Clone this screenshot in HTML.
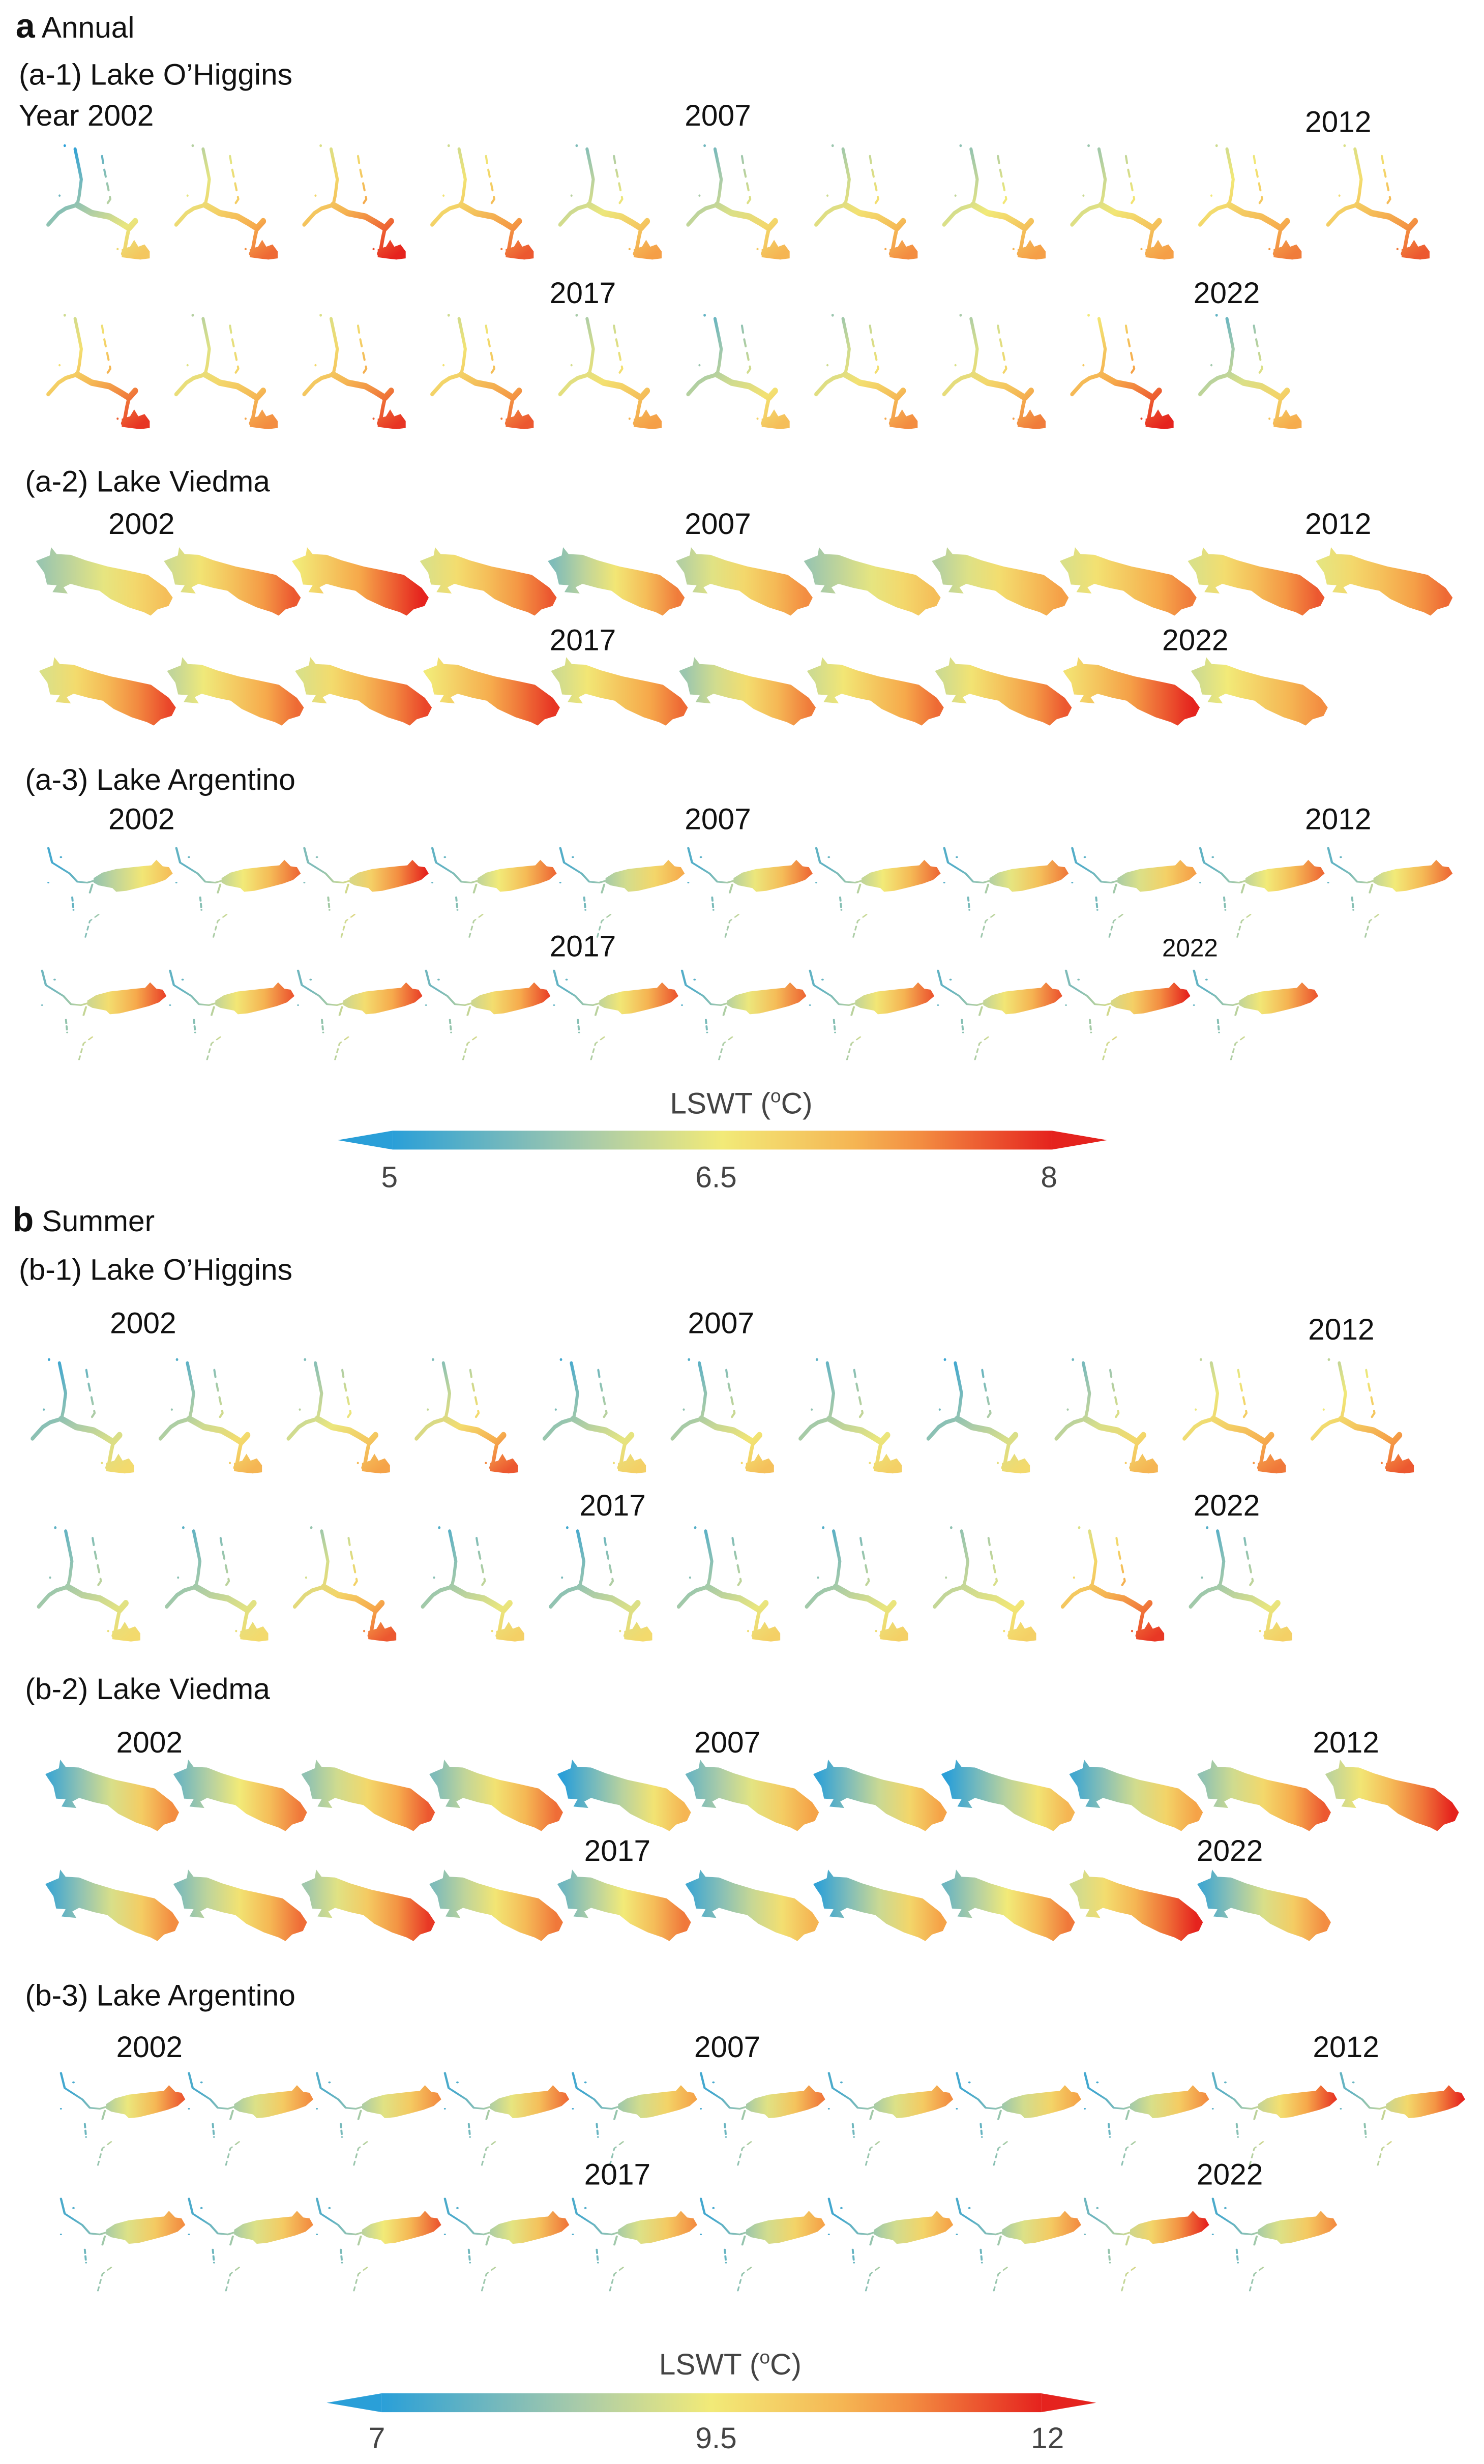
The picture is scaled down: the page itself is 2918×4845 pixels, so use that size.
<!DOCTYPE html>
<html>
<head>
<meta charset="utf-8">
<style>
html,body{margin:0;padding:0;background:#fff;}
svg{display:block;}
text{font-family:"Liberation Sans",Arial,sans-serif;}
</style>
</head>
<body>
<svg id="fig" width="2918" height="4845" viewBox="0 0 945 1569" preserveAspectRatio="none" xmlns="http://www.w3.org/2000/svg">
<defs id="defs"></defs>
<g id="labels" font-size="19" fill="#111">
  <text x="10" y="24"><tspan font-weight="bold" font-size="22">a</tspan> Annual</text>
  <text x="12" y="54">(a-1) Lake O’Higgins</text>
  <text x="16" y="313">(a-2) Lake Viedma</text>
  <text x="16" y="503">(a-3) Lake Argentino</text>
  <text x="8" y="784"><tspan font-weight="bold" font-size="22">b</tspan> Summer</text>
  <text x="12" y="815">(b-1) Lake O’Higgins</text>
  <text x="16" y="1082">(b-2) Lake Viedma</text>
  <text x="16" y="1277">(b-3) Lake Argentino</text>
</g>
<g id="maps"></g>
<g id="cbars"></g>
</svg>
<script>
const NS = "http://www.w3.org/2000/svg";
const years = [2002,2003,2004,2005,2006,2007,2008,2009,2010,2011,2012,2013,2014,2015,2016,2017,2018,2019,2020,2021,2022];
const labelYears = [2002,2007,2012,2017,2022];

// Annual (°C)
const ohAnnWest = [5.0,6.0,6.3,6.2,5.6,5.5,5.8,5.7,5.8,6.2,6.3,6.2,6.0,6.3,6.2,5.9,5.4,5.8,5.9,6.5,5.4];
const ohAnnEast = [6.9,7.6,8.0,7.7,7.3,7.1,7.4,7.3,7.3,7.5,7.7,7.9,7.4,7.9,7.7,7.3,7.0,7.4,7.5,8.0,7.2];
const viAnnWest = [5.8,6.2,6.5,6.3,5.6,6.0,5.8,6.0,6.3,6.3,6.4,6.3,6.1,6.3,6.5,6.2,5.8,6.2,6.2,6.6,6.2];
const viAnnEast = [7.0,7.7,8.0,7.7,7.5,7.4,7.0,7.3,7.5,7.7,7.6,7.8,7.6,7.8,7.9,7.6,7.5,7.6,7.7,8.0,7.4];
const arAnnWest = [5.2,5.4,5.6,5.4,5.3,5.3,5.4,5.3,5.3,5.4,5.4,5.5,5.4,5.5,5.5,5.4,5.3,5.4,5.4,5.6,5.4];
const arAnnEast = [7.0,7.6,8.0,7.6,7.2,7.6,7.6,7.5,7.3,7.6,7.6,7.8,7.7,7.8,7.8,7.7,7.6,7.7,7.7,8.0,7.7];
// Summer (°C)
const ohSumWest = [7.2,7.5,8.0,8.0,7.3,7.5,7.6,7.2,7.8,8.8,8.8,7.6,7.6,8.3,7.5,7.3,7.5,7.5,8.2,9.2,7.5];
const ohSumEast = [9.8,10.5,10.8,11.5,10.0,10.3,10.0,9.8,10.5,11.2,11.5,9.8,9.8,11.5,10.0,9.8,10.0,10.0,10.0,11.8,10.0];
const viSumWest = [7.3,7.8,8.2,8.0,7.0,7.8,7.1,7.0,7.3,8.2,8.8,7.3,8.0,8.4,8.0,7.8,7.3,7.1,7.8,9.0,7.3];
const viSumEast = [11.0,11.2,11.5,11.3,10.5,10.8,10.8,10.5,10.8,11.5,12.0,11.0,11.3,11.8,11.2,11.2,10.5,10.8,11.2,12.0,11.0];
const arSumWest = [7.3,7.4,7.5,7.4,7.3,7.3,7.4,7.3,7.3,7.6,7.7,7.4,7.4,7.5,7.4,7.4,7.3,7.3,7.4,7.8,7.4];
const arSumEast = [11.5,11.0,11.0,11.3,10.8,11.2,11.0,10.8,11.0,11.8,12.0,11.0,11.0,11.5,11.2,11.0,10.8,10.8,11.0,12.0,11.0];

const annTicks = [5,6.5,8];
const sumTicks = [7,9.5,12];

const cmapStops = [[0,[42,159,216]],[0.3,[169,203,169]],[0.5,[242,234,120]],[0.75,[246,168,74]],[1,[229,35,30]]];
function cmap(t){
  t=Math.max(0,Math.min(1,t));
  for(let i=1;i<cmapStops.length;i++){
    if(t<=cmapStops[i][0]){
      const a=cmapStops[i-1],b=cmapStops[i];const f=(t-a[0])/(b[0]-a[0]);
      const c=a[1].map((v,k)=>Math.round(v+(b[1][k]-v)*f));
      return `rgb(${c[0]},${c[1]},${c[2]})`;
    }
  }
  return "rgb(229,35,30)";
}

const defs=document.getElementById('defs');
const maps=document.getElementById('maps');
let gid=0;
function el(tag,attrs,parent){const e=document.createElementNS(NS,tag);for(const k in attrs)e.setAttribute(k,attrs[k]);if(parent)parent.appendChild(e);return e;}

function makeGrad(west,east,dom,x1,y1,x2,y2){
  const id='g'+(gid++);
  const g=el('linearGradient',{id:id,gradientUnits:'userSpaceOnUse',x1:x1,y1:y1,x2:x2,y2:y2},defs);
  const n=5;
  for(let i=0;i<n;i++){
    const f=i/(n-1);const v=west+(east-west)*f;
    el('stop',{offset:f,'stop-color':cmap((v-dom[0])/(dom[1]-dom[0]))},g);
  }
  return 'url(#'+id+')';
}

function drawOhiggins(g,fill){
  const s={fill:'none',stroke:fill,'stroke-linejoin':'round','stroke-linecap':'round'};
  el('path',Object.assign({d:'M27 4 L31 21 L33 30 L31 44 L29 52','stroke-width':3},s),g);
  el('path',Object.assign({d:'M53 10 L55 21 L59 38 L61 47 L55 55','stroke-width':2,'stroke-dasharray':'6 6'},s),g);
  el('path',Object.assign({d:'M29 52 L18 55 L11 59 L1 69','stroke-width':3.5},s),g);
  el('path',Object.assign({d:'M29 52 L43 59 L60 62 L70 67 L79 72 L85 66','stroke-width':5.5},s),g);
  el('path',Object.assign({d:'M79 72 L77 80 L75 90 L73 94','stroke-width':3.5},s),g);
  el('path',{d:'M72 90 L80 88 L84 82 L88 88 L94 86 L99 92 L99 98 L90 99 L80 98 L72 97 Z',fill:fill},g);
  el('circle',{cx:17,cy:1,r:1.2,fill:fill},g);
  el('circle',{cx:12,cy:44,r:1,fill:fill},g);
  el('circle',{cx:68,cy:90,r:1,fill:fill},g);
}
function drawViedma(g,fill){
  el('path',{d:'M1 21 L11 13 L12 1 L16 11 L26 12 L37 20 L53 29 L68 35 L82 41 L95 60 L100 74 L97 86 L89 91 L84 100 L79 95 L68 88 L55 76 L47 64 L37 60 L26 54 L21 59 L24 68 L13 66 L16 56 L9 55 L7 38 L3 27 Z',fill:fill},g);
}
function drawArgentino(g,fill){
  const s={fill:'none',stroke:fill,'stroke-linejoin':'round','stroke-linecap':'round'};
  el('path',{d:'M37 33 L44 27 L55 23 L75 20 L83 19 L87 13 L92 20 L97 21 L100 28 L94 35 L86 39 L75 43 L63 47 L55 48 L52 44 L41 41 L37 38 Z',fill:fill},g);
  el('path',Object.assign({d:'M1 0 L4 16 L18 28 L24 37 L32 38 L37 36','stroke-width':1.8},s),g);
  el('path',Object.assign({d:'M36 40 L34 49','stroke-width':1.6},s),g);
  el('path',Object.assign({d:'M20 54 L21 68','stroke-width':1.6,'stroke-dasharray':'4 3'},s),g);
  el('path',Object.assign({d:'M41 73 L34 80 L30 100','stroke-width':1.3,'stroke-dasharray':'4 4'},s),g);
  el('circle',{cx:11,cy:10,r:1,fill:fill},g);
  el('circle',{cx:1,cy:38,r:0.8,fill:fill},g);
}

const panels=[
 {name:'a1-ohiggins',draw:drawOhiggins,west:ohAnnWest,east:ohAnnEast,dom:[5,8],x0:[30,30],y:[92,200],w:66,h:74,pitch:81.5,gx:[25,0,90,95],lab:[[12,80,'Year 2002'],[436,80],[831,84],[350,193],[760,193]],fs:19},
 {name:'a2-viedma',draw:drawViedma,west:viAnnWest,east:viAnnEast,dom:[5,8],x0:[22,24],y:[348,418],w:88,h:44,pitch:81.5,gx:[5,0,95,0],lab:[[69,340],[436,340],[831,340],[350,414],[740,414]],fs:19},
 {name:'a3-argentino',draw:drawArgentino,west:arAnnWest,east:arAnnEast,dom:[5,8],x0:[30,26],y:[540,618],w:80,h:58,pitch:81.5,gx:[10,0,98,0],lab:[[69,528],[436,528],[831,528],[350,609],[740,609,'2022',16]],fs:19},
 {name:'b1-ohiggins',draw:drawOhiggins,west:ohSumWest,east:ohSumEast,dom:[7,12],x0:[20,24],y:[865,972],w:66,h:74,pitch:81.5,gx:[25,0,90,95],lab:[[70,849],[438,849],[833,853],[369,965],[760,965]],fs:19},
 {name:'b2-viedma',draw:drawViedma,west:viSumWest,east:viSumEast,dom:[7,12],x0:[28,28],y:[1120,1190],w:86,h:46,pitch:81.5,gx:[5,0,95,0],lab:[[74,1116],[442,1116],[836,1116],[372,1185],[762,1185]],fs:19},
 {name:'b3-argentino',draw:drawArgentino,west:arSumWest,east:arSumEast,dom:[7,12],x0:[38,38],y:[1320,1400],w:80,h:60,pitch:81.5,gx:[10,0,98,0],lab:[[74,1310],[442,1310],[836,1310],[372,1391],[762,1391]],fs:19}
];

panels.forEach(p=>{
  const pg=el('g',{},maps);
  
  
  years.forEach((yr,i)=>{
    const row=i<11?0:1; const col=row?i-11:i;
    const x=p.x0[row]+col*p.pitch, y=p.y[row];
    const g=el('g',{transform:`translate(${x},${y}) scale(${p.w/100},${p.h/100})`},pg);
    
    
    const fill=makeGrad(p.west[i],p.east[i],p.dom,p.gx[0],p.gx[1],p.gx[2],p.gx[3]);
    p.draw(g,fill);
  });
  labelYears.forEach((yr,k)=>{
    const L=p.lab[k];
    const t=el('text',{x:L[0],y:L[1],'font-size':L[3]||p.fs,fill:'#111'},pg);
    
    
    t.textContent=L[2]||String(yr);
  });
});

function colorbar(name,x0,x1,y,ticks,tickX,titleX,titleY,tickY){
  const cb=document.getElementById('cbars');
  const g=el('g',{},cb);
  
  
  const id='cb'+name;
  const lg=el('linearGradient',{id:id,x1:0,y1:0,x2:1,y2:0},defs);
  for(let i=0;i<=10;i++)el('stop',{offset:i/10,'stop-color':cmap(i/10)},lg);
  const a=35;
  el('rect',{x:x0+a,y:y,width:x1-x0-2*a,height:12,fill:'url(#'+id+')'},g);
  const lt=el('polygon',{points:`${x0},${y+6} ${x0+a},${y} ${x0+a},${y+12}`,fill:cmap(0)},g);
  
  
  const rt=el('polygon',{points:`${x1},${y+6} ${x1-a},${y} ${x1-a},${y+12}`,fill:cmap(1)},g);
  
  
  const title=el('text',{x:titleX,y:titleY,'font-size':19,fill:'#444','text-anchor':'middle'},g);
  
  
  title.innerHTML='LSWT  (<tspan font-size="12" dy="-7">o</tspan><tspan dy="7">C)</tspan>';
  ticks.forEach((v,i)=>{
    const t=el('text',{x:tickX[i],y:tickY,'font-size':19,fill:'#444','text-anchor':'middle'},g);
    
    
    t.textContent=String(v);
  });
}
colorbar('annual',215,705,720,annTicks,[248,456,668],472,709,756);
colorbar('summer',208,698,1524,sumTicks,[240,456,667],465,1512,1559);
</script>
</body>
</html>
